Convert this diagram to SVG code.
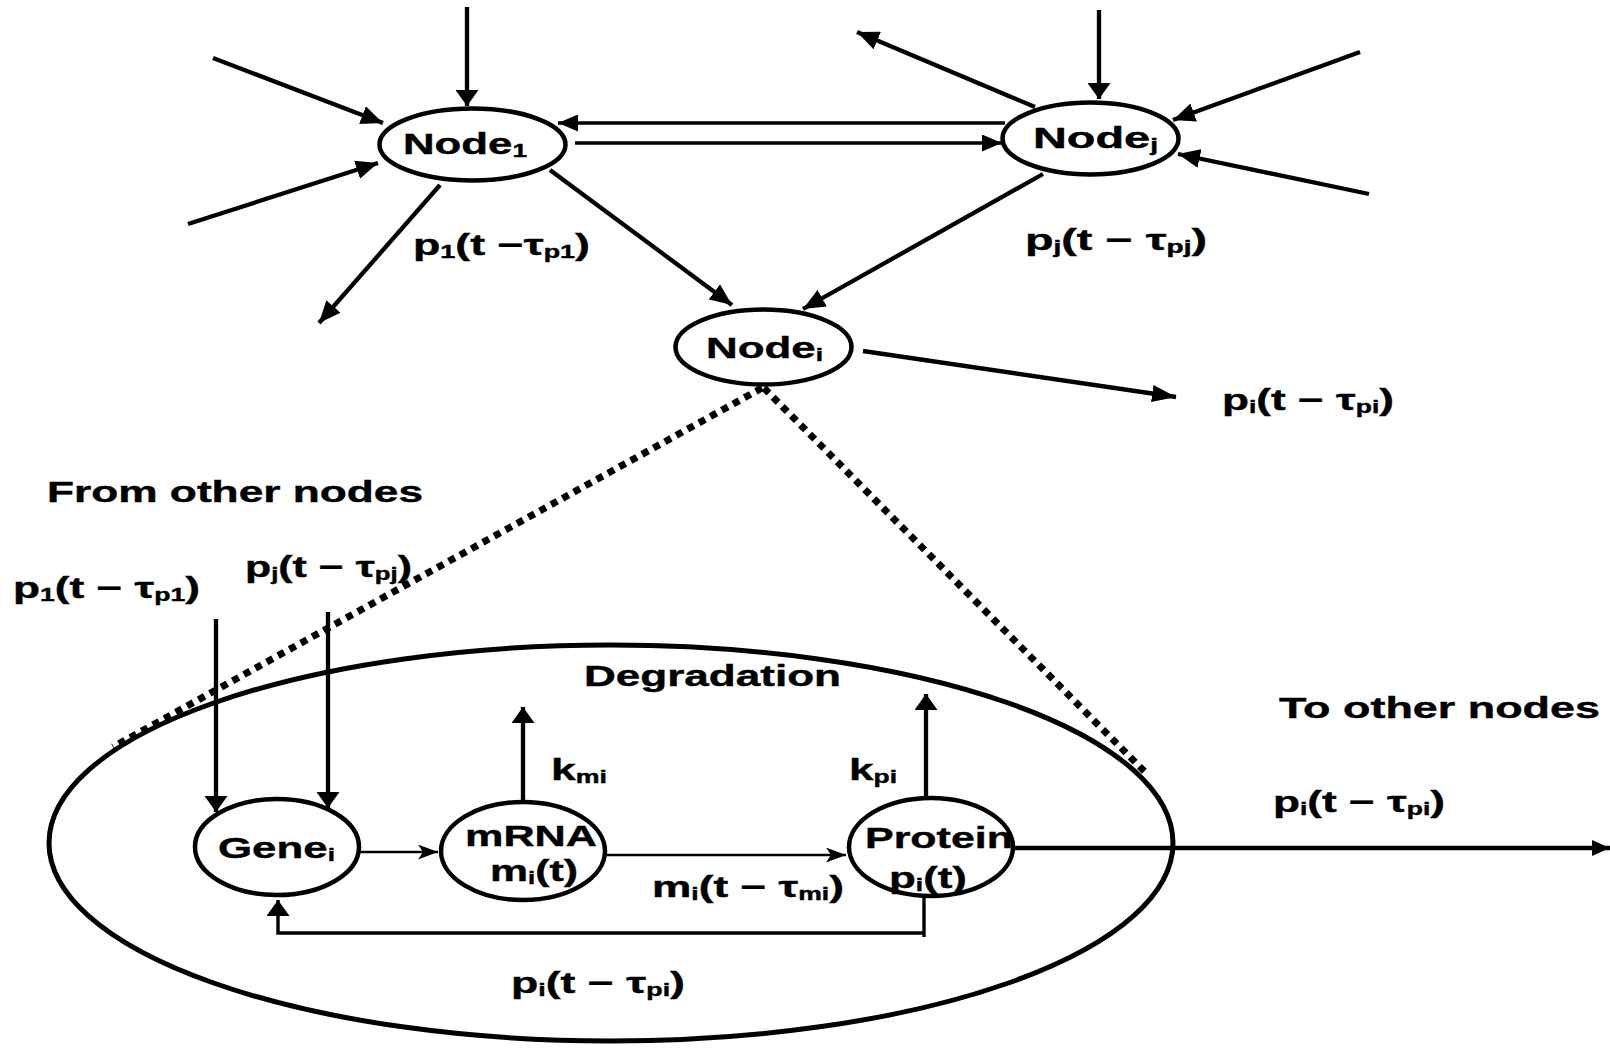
<svg xmlns="http://www.w3.org/2000/svg" width="1610" height="1048" viewBox="0 0 1610 1048">
<defs>
<style>
text{font-family:"Liberation Sans",Arial,sans-serif;font-weight:bold;font-size:30px;fill:#000;stroke:#000;stroke-width:0.4}
.sub{font-size:18px}
.node{fill:#fff;stroke:#000;stroke-width:4.5}
.ln{fill:none;stroke:#000;stroke-width:4.3}
.mid{fill:none;stroke:#000;stroke-width:3.4}
.thin{fill:none;stroke:#000;stroke-width:2.7}
.dot{fill:none;stroke:#000;stroke-width:7;stroke-dasharray:7 6}
</style>
<marker id="ahV" markerUnits="userSpaceOnUse" markerWidth="17" markerHeight="23" refX="16" refY="11.5" orient="auto"><path d="M0,0 L16,11.5 L0,23 z" fill="#000"/></marker>
<marker id="ahD" markerUnits="userSpaceOnUse" markerWidth="23" markerHeight="19" refX="22" refY="9.5" orient="auto"><path d="M0,0 L22,9.5 L0,19 z" fill="#000"/></marker>
<marker id="ahS" markerUnits="userSpaceOnUse" markerWidth="21" markerHeight="17" refX="20" refY="8.5" orient="auto"><path d="M0,0 L20,8.5 L0,17 z" fill="#000"/></marker>
<marker id="ahL" markerUnits="userSpaceOnUse" markerWidth="25" markerHeight="17" refX="24" refY="8.5" orient="auto"><path d="M0,0 L24,8.5 L0,17 z" fill="#000"/></marker>
<marker id="open" markerUnits="userSpaceOnUse" markerWidth="21" markerHeight="15" refX="20" refY="7.5" orient="auto"><path d="M0,0 L20,7.5 L0,15 L5,7.5 z" fill="#000"/></marker>
<marker id="ahO" markerUnits="userSpaceOnUse" markerWidth="19" markerHeight="16" refX="18" refY="8" orient="auto"><path d="M0,0 L18,8 L0,16 z" fill="#000"/></marker>
</defs>
<rect width="1610" height="1048" fill="#fff"/>

<g id="connectors">
  <line class="dot" x1="762" y1="388" x2="113" y2="747"/>
  <line class="dot" x1="764" y1="388" x2="1145" y2="772"/>
  <line class="ln" x1="467" y1="7" x2="467" y2="106" marker-end="url(#ahV)"/>
  <line class="ln" x1="213" y1="58" x2="383" y2="123" marker-end="url(#ahD)"/>
  <line class="ln" x1="188" y1="224" x2="378" y2="163" marker-end="url(#ahD)"/>
  <line class="ln" x1="440" y1="185" x2="319" y2="323" marker-end="url(#ahD)"/>
  <line class="ln" x1="550" y1="170" x2="732" y2="305" marker-end="url(#ahD)"/>
  <line class="mid" x1="1005" y1="123" x2="558" y2="123" marker-end="url(#ahS)"/>
  <line class="mid" x1="575" y1="143" x2="1002" y2="143" marker-end="url(#ahS)"/>
  <line class="ln" x1="1099" y1="10" x2="1099" y2="99" marker-end="url(#ahV)"/>
  <line class="ln" x1="1035" y1="107" x2="857" y2="32" marker-end="url(#ahD)"/>
  <line class="ln" x1="1360" y1="52" x2="1173" y2="120" marker-end="url(#ahD)"/>
  <line class="ln" x1="1369" y1="194" x2="1178" y2="154" marker-end="url(#ahD)"/>
  <line class="ln" x1="1043" y1="174" x2="803" y2="309" marker-end="url(#ahD)"/>
  <line class="ln" x1="863" y1="351" x2="1176" y2="397" marker-end="url(#ahL)"/>
  <line class="ln" x1="216" y1="619" x2="216" y2="812" marker-end="url(#ahV)"/>
  <line class="ln" x1="328" y1="612" x2="328" y2="808" marker-end="url(#ahV)"/>
  <line class="thin" x1="360" y1="852" x2="438" y2="852" marker-end="url(#open)"/>
  <line class="thin" x1="607" y1="855" x2="846" y2="855" marker-end="url(#open)"/>
  <line class="ln" x1="523" y1="801" x2="523" y2="707" marker-end="url(#ahV)"/>
  <line class="ln" x1="926" y1="797" x2="926" y2="694" marker-end="url(#ahV)"/>
  <path class="mid" d="M924,897 L924,937 M925.7,933 L278,933 L278,900" marker-end="url(#ahV)"/>
  <line class="ln" x1="1013" y1="848" x2="1610" y2="848" marker-end="url(#ahO)"/>
</g>

<g id="node1"><ellipse class="node" cx="472.5" cy="144.5" rx="93" ry="36"/>
<text x="403" y="154" textLength="124" lengthAdjust="spacingAndGlyphs">Node<tspan class="sub" dy="3">1</tspan></text></g>
<g id="nodej"><ellipse class="node" cx="1090.5" cy="138.5" rx="88" ry="36"/>
<text x="1033" y="148" textLength="125" lengthAdjust="spacingAndGlyphs">Node<tspan class="sub" dy="3">j</tspan></text></g>
<g id="nodei"><ellipse class="node" cx="763.5" cy="347" rx="88" ry="37.5"/>
<text x="706" y="358" textLength="117" lengthAdjust="spacingAndGlyphs">Node<tspan class="sub" dy="3">i</tspan></text></g>

<g id="cell"><ellipse cx="611" cy="843" rx="562" ry="198" fill="none" stroke="#000" stroke-width="5"/></g>

<g id="gene"><ellipse class="node" cx="277" cy="847" rx="82" ry="48"/>
<text x="218" y="858" textLength="117" lengthAdjust="spacingAndGlyphs">Gene<tspan class="sub" dy="3">i</tspan></text></g>
<g id="mrna"><ellipse class="node" cx="523" cy="851" rx="82" ry="49"/>
<text x="465" y="846" textLength="132" lengthAdjust="spacingAndGlyphs">mRNA</text>
<text x="490" y="881" textLength="88" lengthAdjust="spacingAndGlyphs">m<tspan class="sub" dy="3">i</tspan><tspan dy="-3">(t)</tspan></text></g>
<g id="protein"><ellipse class="node" cx="931" cy="847" rx="82" ry="49"/>
<text x="865" y="848" textLength="148" lengthAdjust="spacingAndGlyphs">Protein</text>
<text x="889" y="888" textLength="78" lengthAdjust="spacingAndGlyphs">p<tspan class="sub" dy="3">i</tspan><tspan dy="-3">(t)</tspan></text></g>

<g id="labels">
<text x="413" y="255" textLength="177" lengthAdjust="spacingAndGlyphs">p<tspan class="sub" dy="3">1</tspan><tspan dy="-3">(t −τ</tspan><tspan class="sub" dy="3">p1</tspan><tspan dy="-3">)</tspan></text>
<text x="1025" y="250" textLength="182" lengthAdjust="spacingAndGlyphs">p<tspan class="sub" dy="3">j</tspan><tspan dy="-3">(t − τ</tspan><tspan class="sub" dy="3">pj</tspan><tspan dy="-3">)</tspan></text>
<text x="1222" y="410" textLength="172" lengthAdjust="spacingAndGlyphs">p<tspan class="sub" dy="3">i</tspan><tspan dy="-3">(t − τ</tspan><tspan class="sub" dy="3">pi</tspan><tspan dy="-3">)</tspan></text>
<text x="47" y="502" textLength="376" lengthAdjust="spacingAndGlyphs">From other nodes</text>
<text x="13" y="598" textLength="187" lengthAdjust="spacingAndGlyphs">p<tspan class="sub" dy="3">1</tspan><tspan dy="-3">(t − τ</tspan><tspan class="sub" dy="3">p1</tspan><tspan dy="-3">)</tspan></text>
<text x="245" y="577" textLength="167" lengthAdjust="spacingAndGlyphs">p<tspan class="sub" dy="3">j</tspan><tspan dy="-3">(t − τ</tspan><tspan class="sub" dy="3">pj</tspan><tspan dy="-3">)</tspan></text>
<text x="584" y="686" textLength="257" lengthAdjust="spacingAndGlyphs">Degradation</text>
<text x="551" y="780" textLength="56" lengthAdjust="spacingAndGlyphs">k<tspan class="sub" dy="3">mi</tspan></text>
<text x="849" y="780" textLength="48" lengthAdjust="spacingAndGlyphs">k<tspan class="sub" dy="3">pi</tspan></text>
<text x="652" y="897" textLength="192" lengthAdjust="spacingAndGlyphs">m<tspan class="sub" dy="3">i</tspan><tspan dy="-3">(t − τ</tspan><tspan class="sub" dy="3">mi</tspan><tspan dy="-3">)</tspan></text>
<text x="511" y="993" textLength="174" lengthAdjust="spacingAndGlyphs">p<tspan class="sub" dy="3">i</tspan><tspan dy="-3">(t − τ</tspan><tspan class="sub" dy="3">pi</tspan><tspan dy="-3">)</tspan></text>
<text x="1279" y="718" textLength="321" lengthAdjust="spacingAndGlyphs">To other nodes</text>
<text x="1273" y="812" textLength="172" lengthAdjust="spacingAndGlyphs">p<tspan class="sub" dy="3">i</tspan><tspan dy="-3">(t − τ</tspan><tspan class="sub" dy="3">pi</tspan><tspan dy="-3">)</tspan></text>
</g>
</svg>
